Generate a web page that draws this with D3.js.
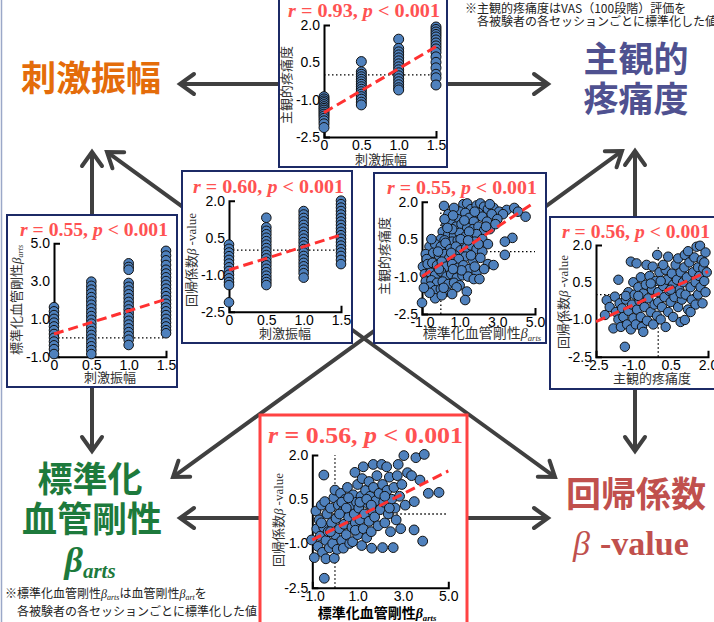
<!DOCTYPE html>
<html>
<head>
<meta charset="utf-8">
<script src="https://cdn.jsdelivr.net/npm/d3@7"></script>
<style>
  body { margin: 0; background: #fff; }
  svg { display: block; }
</style>
</head>
<body>
<svg id="fig" width="714" height="622"></svg>
<script>
// ---------- data ----------
const stimLevels = [0, 0.5, 1.0, 1.5];
const stimTickLabels = ["0", "0.5", "1.0", "1.5"];
const pmTicks = [2.0, 0.5, -1.0, -2.5];
const pmTickLabels = ["2.0", "0.5", "-1.0", "-2.5"];
const stiffTicks = [-1, 1, 3, 5];
const stiffTickLabels = ["-1.0", "1.0", "3.0", "5.0"];
const stiffTicksY = [5, 3, 1, -1];
const stiffTickLabelsY = ["5.0", "3.0", "1.0", "-1.0"];
const painTicksX = [-2.5, -1.0, 0.5, 2.0];
const painTickLabelsX = ["-2.5", "-1.0", "0.5", "2.0"];

// subjective pain by stimulus amplitude
const painByStim = [
  [-0.88, -0.97, -1.05, -1.12, -1.2, -1.28, -1.35, -1.42, -1.5, -1.58, -1.66, -1.75, -1.85, -1.97, -2.12],
  [0.53, 0.12, 0.02, -0.08, -0.18, -0.28, -0.38, -0.48, -0.58, -0.68, -0.78, -0.88, -0.98, -1.1, -1.21],
  [1.43, 1.06, 0.92, 0.8, 0.68, 0.56, 0.44, 0.32, 0.2, 0.08, -0.04, -0.16, -0.28, -0.4, -0.52, -0.61],
  [1.92, 1.82, 1.72, 1.62, 1.52, 1.4, 1.28, 1.16, 1.04, 0.9, 0.72, 0.5, 0.28, 0.02, -0.12, -0.41]
];
// standardized arterial stiffness by stimulus amplitude
const stiffByStim = [
  [1.62, 1.4, 1.2, 1.0, 0.8, 0.6, 0.4, 0.2, 0.0, -0.2, -0.4, -0.6, -0.86],
  [2.97, 2.75, 2.55, 2.35, 2.15, 1.95, 1.75, 1.55, 1.35, 1.15, 0.95, 0.75, 0.55, 0.35, 0.15, -0.05, -0.25, -0.45, -0.65, -0.86],
  [3.94, 3.75, 3.6, 2.9, 2.7, 2.5, 2.3, 2.1, 1.9, 1.7, 1.5, 1.3, 1.1, 0.9, 0.7, 0.5, 0.3, 0.1, -0.1, -0.38],
  [4.6, 4.35, 4.1, 3.85, 3.6, 3.4, 3.2, 3.0, 2.8, 2.6, 2.4, 2.2, 2.0, 1.8, 1.6, 1.4, 1.2, 1.0, 0.8, 0.6, 0.4, 0.24]
];
// regression coefficient beta by stimulus amplitude
const betaByStim = [
  [0.22, 0.05, -0.1, -0.25, -0.4, -0.55, -0.7, -0.85, -1.0, -1.15, -1.3, -1.42, -2.12],
  [1.31, 0.92, 0.78, 0.64, 0.5, 0.36, 0.22, 0.08, -0.06, -0.2, -0.34, -0.48, -0.62, -0.76, -0.9, -1.04, -1.18, -1.3, -1.42],
  [1.58, 1.44, 1.3, 1.16, 1.02, 0.88, 0.74, 0.6, 0.46, 0.32, 0.18, 0.04, -0.1, -0.24, -0.38, -0.52, -0.66, -0.8, -0.94, -1.12],
  [2.0, 1.86, 1.72, 1.58, 1.44, 1.3, 1.16, 1.02, 0.88, 0.74, 0.6, 0.46, 0.32, 0.18, 0.04, -0.1, -0.24, -0.4, -0.57]
];

// [stiffness, pain]
const stiffPain = [
  [0.17,1.83],[1.2,1.9],[1.4,1.93],[1.6,1.7],[1.9,1.85],[2.1,1.93],[2.3,1.8],[2.5,1.7],[2.8,1.75],[3.1,1.6],[3.5,1.67],[3.9,1.75],[4.1,1.6],[4.5,1.4],[1.0,1.6],[1.3,1.55],[2.0,1.55],[2.7,1.5],[3.3,1.5],[0.9,1.3],[1.5,1.35],[2.2,1.4],[1.75,1.2],[2.45,1.2],[3.0,1.3],
  [0.3,1.1],[0.5,1.2],[0.8,1.0],[1.1,1.1],[1.4,0.95],[1.7,0.9],[2.0,1.0],[2.3,0.85],[2.6,0.9],[0.1,0.8],[0.4,0.7],[0.7,0.65],[1.0,0.75],[1.3,0.6],[1.6,0.55],[1.9,0.7],[2.2,0.5],[0.0,0.5],[0.6,0.4],[1.2,0.35],[3.8,0.55],[3.4,0.4],[2.5,0.3],
  [0.6,0.9],[1.5,0.8],[0.9,0.45],[1.8,0.4],[0.2,0.45],
  [0.4,1.5],[0.7,1.75],[1.8,1.6],[2.6,1.9],[0.2,1.3],[1.25,1.25],[2.9,1.1],[0.35,0.95],[1.05,0.5],[0.65,1.45],[2.4,1.0],
  [-0.6,0.2],[-0.3,0.3],[0.0,0.2],[0.25,0.35],[0.5,0.1],[0.8,0.2],[1.05,0.05],[1.35,0.15],[1.6,0.25],[1.9,0.1],[2.2,0.0],[-0.8,-0.1],[-0.4,-0.05],[-0.1,-0.15],[0.2,-0.1],[0.45,-0.25],[0.75,-0.15],[1.0,-0.3],[1.3,-0.2],[1.7,-0.35],[2.1,-0.25],[3.4,-0.13],[2.5,-0.5],[2.8,-0.54],[1.6,-0.15],[2.0,0.3],
  [0.55,-0.05],[1.45,0.45],[-0.5,0.5],[-0.75,-0.3],[-0.15,0.0],[0.95,-0.3],
  [-0.95,-0.6],[-0.7,-0.5],[-0.45,-0.45],[-0.2,-0.55],[0.05,-0.4],[0.3,-0.6],[0.6,-0.5],[0.9,-0.65],[1.2,-0.55],[1.5,-0.7],[1.9,-0.8],[2.3,-0.7],[-0.85,-0.9],[-0.55,-0.85],[-0.3,-0.95],[0.0,-0.8],[0.3,-1.0],[0.55,-0.9],[0.85,-1.05],[1.15,-0.95],[1.45,-1.0],[1.75,-1.1],[2.05,-1.1],[-0.8,-1.2],[-0.5,-1.15],[-0.2,-1.25],[0.1,-1.2],[0.4,-1.3],[0.7,-1.25],[1.0,-1.35],[1.1,-0.75],[0.65,-0.7],[-0.1,-0.7],[1.8,-0.6],
  [-0.57,-1.4],[-0.3,-1.55],[0.0,-1.5],[0.3,-1.6],[0.84,-1.43],[1.38,-1.6],[1.29,-1.94],[-0.3,-1.87],[-1.0,-2.05],[0.6,-1.7],[0.05,-1.75],[-0.6,-1.65],[0.15,-1.45],[-0.9,-1.45]
];

// [pain, beta]
const painBeta = [
  [-2.14,-0.82],[-2.07,-0.22],[-1.95,-0.5],[-1.8,-1.36],[-1.74,-0.08],[-1.7,-0.7],[-1.6,-1.0],[-1.55,-0.35],[-1.5,-1.3],[-1.45,-0.55],[-1.4,-0.9],[-1.34,-2.1],[-1.3,-0.2],[-1.25,-1.2],[-1.2,0.1],[-1.2,-0.65],[-1.1,1.33],[-1.1,-1.4],[-1.05,-0.4],[-1.0,0.5],[-1.0,-0.95],[-1.6,0.6],[-1.3,-0.05],
  [-0.95,0.0],[-0.9,-1.2],[-0.87,1.26],[-0.85,-0.6],[-0.8,0.3],[-0.75,-0.25],[-0.7,-0.9],[-0.7,0.7],[-0.65,-1.3],[-0.6,0.05],[-0.55,-0.5],[-0.5,0.4],[-0.47,1.2],[-0.45,-1.05],[-0.4,-0.15],[-0.35,0.75],[-0.3,-0.7],[-0.25,0.2],[-0.22,1.13],[-0.2,-1.2],[-0.15,-0.4],[-0.1,0.55],[-0.05,-0.85],[-0.04,1.6],[0.0,0.1],[0.0,-0.3],[-0.6,-1.5],[-0.3,0.45],[-0.8,-0.05],
  [0.05,0.9],[0.1,-1.0],[0.15,-0.5],[0.2,0.35],[0.25,-0.1],[0.3,1.0],[0.3,-1.3],[0.35,0.6],[0.4,1.53],[0.4,-0.7],[0.45,0.15],[0.5,-0.3],[0.55,0.85],[0.6,-0.9],[0.6,0.4],[0.65,-0.1],[0.7,1.2],[0.75,0.6],[0.8,1.46],[0.8,-0.5],[0.85,0.2],[0.9,-1.1],[0.9,0.9],[0.95,-0.2],[1.0,0.5],[0.2,1.2],[0.5,0.2],[0.9,0.05],[0.1,0.55],
  [1.05,1.1],[1.07,1.6],[1.07,-1.02],[1.1,0.0],[1.15,0.7],[1.2,-0.6],[1.25,1.3],[1.3,0.3],[1.35,-0.2],[1.4,0.9],[1.45,1.5],[1.5,0.5],[1.5,-0.4],[1.54,1.93],[1.6,1.1],[1.6,0.0],[1.65,0.75],[1.68,1.97],[1.7,0.3],[1.75,1.4],[1.78,-0.35],[1.81,1.06],[1.85,0.55],[1.9,1.7],[1.9,0.1],[1.95,0.9],[1.2,1.75],[1.3,-0.7],[1.85,1.3]
];

// [stiffness, beta]
const stiffBeta = [
  [-1.03,-0.88],[-0.91,-1.48],[-0.84,0.1],[-0.8,-0.5],[-0.75,-1.1],[-0.7,-0.2],[-0.65,-0.75],[-0.6,0.3],[-0.55,-1.3],[-0.5,-0.45],[-0.49,1.32],[-0.47,-2.18],[-0.45,0.42],[-0.4,-1.52],[-0.4,-0.9],[-0.35,0.0],[-0.3,-0.6],[-0.25,-1.15],[-0.2,0.2],[-0.15,-0.3],[-0.1,-1.0],[-0.05,0.55],[-0.03,-1.5],[0.0,0.81],[0.0,-0.7],[-0.6,-0.3],[-0.2,-0.6],
  [0.05,-0.15],[0.1,-1.2],[0.15,0.3],[0.2,-0.5],[0.25,0.7],[0.3,-0.9],[0.35,0.1],[0.37,-1.16],[0.4,-0.35],[0.45,0.5],[0.5,-0.7],[0.55,0.9],[0.6,-0.1],[0.65,-1.0],[0.7,0.3],[0.75,-0.45],[0.78,-0.94],[0.8,0.65],[0.85,0.0],[0.88,1.41],[0.9,-0.3],[0.95,0.4],[1.0,-0.7],[1.0,1.0],[0.3,0.4],[0.5,0.2],[0.2,0.0],[0.9,-0.55],[0.6,0.55],
  [1.05,0.2],[1.1,-0.2],[1.15,0.6],[1.18,-1.07],[1.2,1.2],[1.25,1.6],[1.25,-0.5],[1.3,0.0],[1.35,0.8],[1.4,-0.8],[1.45,0.35],[1.5,1.1],[1.5,-0.25],[1.55,0.6],[1.6,-0.6],[1.62,-1.16],[1.65,0.1],[1.69,1.68],[1.7,0.9],[1.75,-0.1],[1.8,0.45],[1.85,1.3],[1.9,-0.4],[1.95,0.7],[2.0,0.15],[1.1,0.4],[1.4,0.5],[1.6,0.3],
  [2.06,1.68],[2.1,-1.14],[2.1,1.0],[2.15,0.4],[2.2,-0.3],[2.28,1.6],[2.3,0.8],[2.35,0.0],[2.4,1.25],[2.45,-0.6],[2.5,0.5],[2.57,-1.14],[2.6,0.9],[2.65,0.2],[2.7,-0.2],[2.75,1.3],[2.79,1.68],[2.85,0.6],[2.9,-0.5],[2.95,1.0],[2.2,0.6],[2.4,0.2],
  [3.04,1.98],[3.1,0.3],[3.2,1.4],[3.38,1.3],[3.49,-0.54],[3.5,0.42],[3.57,1.91],[3.75,1.15],[3.87,-0.92],[3.94,2.02],[4.12,0.7],[4.59,0.73]
];

// regression line end points [x, y]
const fitStimPain = [[0, -1.52], [1.5, 1.13]];
const fitStimStiff = [[0, 0.2], [1.5, 2.04]];
const fitStimBeta = [[0, -0.81], [1.5, 0.61]];
const fitStiffPain = [[-1, -1.0], [4.9, 1.93]];
const fitPainBeta = [[-2.5, -1.09], [2.0, 0.93]];
const fitStiffBeta = [[-1, -0.88], [5, 1.46]];

// correlation results
const rValues = [0.93, 0.55, 0.60, 0.55, 0.56, 0.56];
const pLimit = "0.001";

// ---------- drawing ----------
const svg = d3.select("#fig");
const CJK = "'Noto Sans CJK JP', 'Noto Sans', sans-serif";
const SANS = "'Liberation Sans', Arial, sans-serif";
const SERIF = "'Liberation Serif', 'Times New Roman', serif";
const NAVY = "#1c2a66";
const DOT = "#4f81bd";
const FITRED = "#ff3131";
const TITLERED = "#ff5252";
const ARROW = "#404040";

// page frame line on the left
svg.append("line").attr("x1", 1.5).attr("x2", 1.5).attr("y1", 0).attr("y2", 622)
  .attr("stroke", "#9ba8c8").attr("stroke-width", 1.5);

// connector arrows (heads at both ends), drawn beneath the panels
function doubleArrow(a, b) {
  const g = svg.append("g").attr("stroke", ARROW).attr("stroke-width", 4).attr("fill", "none")
    .attr("stroke-linecap", "round").attr("stroke-linejoin", "miter");
  const dx = b[0] - a[0], dy = b[1] - a[1], len = Math.hypot(dx, dy);
  const ux = dx / len, uy = dy / len, nx = -uy, ny = ux;
  g.append("line").attr("x1", a[0] + ux * 2).attr("y1", a[1] + uy * 2)
    .attr("x2", b[0] - ux * 2).attr("y2", b[1] - uy * 2);
  const L = 14, W = 10;
  [[b, 1], [a, -1]].forEach(([tip, s]) => {
    const p1 = [tip[0] - s * ux * L + nx * W, tip[1] - s * uy * L + ny * W];
    const p2 = [tip[0] - s * ux * L - nx * W, tip[1] - s * uy * L - ny * W];
    g.append("path").attr("d", `M${p1[0]},${p1[1]}L${tip[0]},${tip[1]}L${p2[0]},${p2[1]}`);
  });
}
doubleArrow([180, 84], [548, 84]);
doubleArrow([92, 152], [92, 451]);
doubleArrow([635, 151], [635, 451]);
doubleArrow([180, 518], [548, 518]);
doubleArrow([107, 152], [555, 477]);
doubleArrow([622, 151], [173, 477]);

// rich text helper
function rich(sel, segs) {
  segs.forEach(s => {
    const ts = sel.append("tspan").text(s.t);
    if (s.f) ts.attr("font-family", s.f);
    if (s.i) ts.attr("font-style", "italic");
    if (s.s) ts.attr("font-size", s.s);
    if (s.dy) ts.attr("dy", s.dy);
    if (s.w) ts.attr("font-weight", s.w);
  });
  return sel;
}
const stimLabel = [{ t: "刺激振幅" }];
const painLabel = [{ t: "主観的疼痛度" }];
const stiffLabel = [{ t: "標準化血管剛性" }, { t: "β", f: SERIF, i: 1 }, { t: "arts", f: SERIF, i: 1, s: "0.62em", dy: "0.3em" }];
const betaLabel = [{ t: "回帰係数" }, { t: "β", f: SERIF, i: 1 }, { t: " -value", f: SERIF }];

const columnPoints = cols => cols.flatMap((vals, i) => vals.map(v => [stimLevels[i], v]));

const panels = [
  { box: [279, -3, 447, 167], xd: [0, 1.5], yd: [-2.5, 2], xr: [324, 436], yr: [137, 25],
    xt: stimLevels, xtl: stimTickLabels, yt: pmTicks, ytl: pmTickLabels,
    pts: columnPoints(painByStim), fit: fitStimPain, r: rValues[0], rad: 5, vref: false,
    title: [364, 17, 152, 19], xl: [381, 164, stimLabel, 13], yl: [286, 85, painLabel, 13] },
  { box: [7, 215, 177, 387], xd: [0, 1.5], yd: [-1, 5], xr: [54, 166], yr: [356.7, 243.3],
    xt: stimLevels, xtl: stimTickLabels, yt: stiffTicksY, ytl: stiffTickLabelsY,
    pts: columnPoints(stiffByStim), fit: fitStimStiff, r: rValues[1], rad: 4.8, vref: false,
    title: [94, 236, 148, 19], xl: [110, 382, stimLabel, 13], yl: [16, 300, stiffLabel, 13] },
  { box: [182, 171, 352, 343], xd: [0, 1.5], yd: [-2.5, 2], xr: [229, 341], yr: [311.7, 200.7],
    xt: stimLevels, xtl: stimTickLabels, yt: pmTicks, ytl: pmTickLabels,
    pts: columnPoints(betaByStim), fit: fitStimBeta, r: rValues[2], rad: 4.8, vref: false,
    title: [268.5, 193, 151, 19], xl: [285, 338, stimLabel, 13], yl: [191, 260, betaLabel, 13] },
  { box: [374, 173, 546, 343], xd: [-1, 5], yd: [-2.5, 2], xr: [422, 535], yr: [314, 201.7],
    xt: stiffTicks, xtl: stiffTickLabels, yt: pmTicks, ytl: pmTickLabels,
    pts: stiffPain, fit: fitStiffPain, r: rValues[3], rad: 4.8, vref: true,
    title: [462, 194, 150, 19], xl: [482, 338, stiffLabel, 14], yl: [384, 256, painLabel, 13] },
  { box: [550, 217, 722, 389], xd: [-2.5, 2], yd: [-2.5, 2], xr: [596, 708], yr: [356.7, 245],
    xt: painTicksX, xtl: painTickLabelsX, yt: pmTicks, ytl: pmTickLabels,
    pts: painBeta, fit: fitPainBeta, r: rValues[4], rad: 4.7, vref: true,
    title: [636, 238, 148, 19], xl: [652, 383, painLabel, 13], yl: [563, 302, betaLabel, 13] },
  { box: [260, 415, 467, 632], xd: [-1, 5], yd: [-2.5, 2], xr: [312.3, 448.3], yr: [587.7, 455],
    xt: stiffTicks, xtl: stiffTickLabels, yt: pmTicks, ytl: pmTickLabels,
    pts: stiffBeta, fit: fitStiffBeta, r: rValues[5], rad: 4.9, vref: true,
    border: "#ff4343", bw: 3,
    title: [365.5, 443, 195, 24], xl: [377, 618, stiffLabel, 14, "bold"], yl: [278, 520, betaLabel, 13] }
];

function drawPanel(p) {
  const g = svg.append("g");
  g.append("rect")
    .attr("x", p.box[0]).attr("y", p.box[1])
    .attr("width", p.box[2] - p.box[0]).attr("height", p.box[3] - p.box[1])
    .attr("fill", "#fff").attr("stroke", p.border || NAVY).attr("stroke-width", p.bw || 2);

  const x = d3.scaleLinear().domain(p.xd).range(p.xr);
  const y = d3.scaleLinear().domain(p.yd).range(p.yr);

  // zero reference lines
  const ref = g.append("g").attr("stroke", "#000").attr("stroke-width", 1.3)
    .attr("stroke-dasharray", "1.5,2.5");
  ref.append("line").attr("x1", x(p.xd[0])).attr("x2", x(p.xd[1])).attr("y1", y(0)).attr("y2", y(0));
  if (p.vref) ref.append("line").attr("x1", x(0)).attr("x2", x(0)).attr("y1", y(p.yd[0])).attr("y2", y(p.yd[1]));

  // axes
  const xa = d3.axisBottom(x).tickValues(p.xt).tickFormat((d, i) => p.xtl[i])
    .tickSizeInner(0).tickSizeOuter(-6).tickPadding(3);
  const ya = d3.axisLeft(y).tickValues(p.yt).tickFormat((d, i) => p.ytl[i])
    .tickSizeInner(0).tickSizeOuter(-6).tickPadding(4);
  [g.append("g").attr("transform", `translate(0,${p.yr[0]})`).call(xa),
   g.append("g").attr("transform", `translate(${p.xr[0]},0)`).call(ya)].forEach(a => {
    a.attr("font-family", SANS).attr("font-size", 14);
    a.select(".domain").attr("stroke", "#000").attr("stroke-width", 2);
    a.selectAll("text").attr("fill", "#000");
  });

  // observations
  g.append("g").selectAll("circle").data(p.pts).join("circle")
    .attr("cx", d => x(d[0])).attr("cy", d => y(d[1])).attr("r", p.rad)
    .attr("fill", DOT).attr("stroke", "#111").attr("stroke-width", 1);

  // regression line
  g.append("line")
    .attr("x1", x(p.fit[0][0])).attr("y1", y(p.fit[0][1]))
    .attr("x2", x(p.fit[1][0])).attr("y2", y(p.fit[1][1]))
    .attr("stroke", FITRED).attr("stroke-width", 3).attr("stroke-dasharray", "10,5");

  // title
  const t = g.append("text").attr("x", p.title[0]).attr("y", p.title[1])
    .attr("text-anchor", "middle").attr("font-family", SERIF).attr("font-weight", "bold")
    .attr("font-size", p.title[3]).attr("fill", TITLERED)
    .attr("textLength", p.title[2]).attr("lengthAdjust", "spacingAndGlyphs");
  t.append("tspan").attr("font-style", "italic").text("r");
  t.append("tspan").text(` = ${p.r.toFixed(2)}, `);
  t.append("tspan").attr("font-style", "italic").text("p");
  t.append("tspan").text(` < ${pLimit}`);

  // axis labels
  const xl = g.append("text").attr("x", p.xl[0]).attr("y", p.xl[1]).attr("text-anchor", "middle")
    .attr("font-family", CJK).attr("font-size", p.xl[3]).attr("fill", p.xl[4] ? "#000" : "#333")
    .attr("font-weight", p.xl[4] || "normal");
  rich(xl, p.xl[2]);
  const yl = g.append("text").attr("transform", `translate(${p.yl[0]},${p.yl[1]}) rotate(-90)`)
    .attr("dy", "0.35em").attr("text-anchor", "middle")
    .attr("font-family", CJK).attr("font-size", p.yl[3]).attr("fill", "#333");
  rich(yl, p.yl[2]);
}
panels.forEach(drawPanel);

// ---------- variable names ----------
function bigText(x, y, str, color, anchor) {
  return svg.append("text").attr("x", x).attr("y", y).attr("text-anchor", anchor || "middle")
    .attr("font-family", CJK).attr("font-weight", 700).attr("font-size", 35)
    .attr("fill", color).text(str);
}
bigText(91, 91, "刺激振幅", "#e46c0a");
bigText(636, 72, "主観的", "#4f5190");
bigText(636, 112, "疼痛度", "#4f5190");
bigText(90, 492, "標準化", "#1d7a3c");
bigText(92, 532, "血管剛性", "#1d7a3c");
const gb = svg.append("text").attr("x", 90).attr("y", 572).attr("text-anchor", "middle")
  .attr("font-family", SERIF).attr("font-style", "italic").attr("font-weight", "bold").attr("fill", "#1d7a3c");
gb.append("tspan").attr("font-size", 36).text("β");
gb.append("tspan").attr("font-size", 21).attr("dy", 6).text("arts");
bigText(636, 507, "回帰係数", "#c0504d");
const rb = svg.append("text").attr("x", 573).attr("y", 555)
  .attr("font-family", SERIF).attr("fill", "#c0504d");
rb.append("tspan").attr("font-style", "italic").attr("font-size", 34).text("β");
rb.append("tspan").attr("x", 600).attr("font-weight", "bold").attr("font-size", 34).text("-value");

// ---------- notes ----------
function note(x, y, segs) {
  const t = svg.append("text").attr("x", x).attr("y", y).attr("font-family", CJK)
    .attr("font-size", 12).attr("fill", "#222");
  rich(t, segs);
}
note(465, 13, [{ t: "※主観的疼痛度はVAS（100段階）評価を" }]);
note(477, 26, [{ t: "各被験者の各セッションごとに標準化した値" }]);
note(5, 598, [{ t: "※標準化血管剛性" }, { t: "β", f: SERIF, i: 1 }, { t: "arts", f: SERIF, i: 1, s: 8, dy: 2 },
  { t: "は血管剛性", dy: -2 }, { t: "β", f: SERIF, i: 1 }, { t: "art", f: SERIF, i: 1, s: 8, dy: 2 }, { t: "を", dy: -2 }]);
note(17, 616, [{ t: "各被験者の各セッションごとに標準化した値" }]);
</script>
</body>
</html>
